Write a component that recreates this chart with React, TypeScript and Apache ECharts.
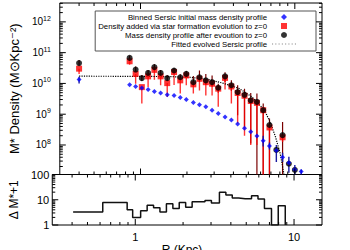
import React, { useEffect, useRef } from "react";
import * as echarts from "echarts";

const FONT = "Liberation Sans";

// Radii of the binned profile points (Kpc)
const radius = [0.40, 0.85, 0.93, 1.02, 1.12, 1.23, 1.35, 1.49, 1.65, 1.81, 1.98, 2.20, 2.41, 2.65, 2.91, 3.19, 3.53, 3.88, 4.26, 4.72, 5.18, 5.68, 6.24, 6.85, 7.59, 8.33, 9.15, 10.0, 11.0];
// log10 of density (M_sun Kpc^-2)
const blueLog = [10.13, 9.96, 9.90, 9.85, 9.80, 9.74, 9.69, 9.63, 9.61, 9.54, 9.48, 9.38, 9.31, 9.24, 9.13, 9.02, 8.91, 8.81, 8.68, 8.54, 8.43, 8.29, 8.14, 7.97, 7.82, 7.60, 7.42, 7.20, 7.14];
const redLog = [10.48, 10.72, 10.31, 9.88, 10.23, 10.44, 10.23, 10.01, 10.37, 10.10, 10.26, 9.97, 10.15, 10.04, 9.99, 9.83, 10.18, 9.90, 9.69, 9.60, 9.43, 9.37, 9.13, 8.57, null, 8.25, null, null, null];
const blackLog = [10.66, 10.83, 10.45, 10.17, 10.34, 10.53, 10.34, 10.17, 10.42, 10.20, 10.31, 10.04, 10.20, 10.10, 10.04, 9.86, 10.23, 9.94, 9.72, 9.63, 9.45, 9.40, 9.13, 8.65, 7.84, 8.32, 7.39, 7.19, null];
// error bars (log10)
const blackHi = [10.76, 10.90, 10.55, 10.27, 10.44, 10.62, 10.44, 10.27, 10.50, 10.30, 10.40, 10.24, 10.42, 10.31, 10.26, 9.99, 10.36, 10.10, 9.94, 9.83, 9.69, 9.67, 9.35, 8.86, null, 8.75, null, null, null];
const blackLo = [10.58, 10.74, 10.36, 10.08, 10.25, 10.43, 10.25, 10.08, 10.33, 10.10, 10.22, 9.90, 10.05, 9.95, 9.90, 9.70, 10.05, 9.75, 8.97, 8.59, 8.05, 6.5, 6.5, 6.5, null, 6.5, null, null, null];
const redLo = [10.31, 10.61, 9.99, 9.35, 9.88, 10.12, 9.94, 9.56, 9.95, 9.67, 9.94, 9.67, 9.77, 9.61, 9.61, 9.24, 9.80, 9.35, 8.70, 8.30, 8.00, 8.00, 6.5, 6.5, null, 8.10, null, null, null];
const blueLo = [10.00, null, null, null, null, null, null, null, null, null, null, null, null, null, null, null, null, null, null, null, null, null, 7.95, 7.85, 7.45, 7.45, 7.10, 7.00, 7.00];
const blueHi = [10.22, null, null, null, null, null, null, null, null, null, null, null, null, null, null, null, null, null, null, null, null, null, 8.30, 8.08, 8.00, 7.75, 7.62, 7.35, 7.20];

// Fitted evolved Sersic profile
const fitR = [0.40, 1.0, 1.57, 2.08, 2.75, 3.47, 4.38, 5.28, 6.36, 6.98, 7.49, 8.03, 8.41, 8.55];
const fitLog = [10.235, 10.23, 10.22, 10.20, 10.13, 10.0, 9.83, 9.56, 9.13, 8.70, 8.27, 7.73, 7.19, 6.95];

// Lower panel: Delta M* + 1 histogram
const histEdges = [0.406, 0.624, 0.889, 0.963, 1.081, 1.188, 1.304, 1.430, 1.571, 1.725, 1.892, 2.077, 2.281, 2.502, 2.748, 3.017, 3.389, 3.721, 4.082, 4.482, 4.922, 5.398, 5.929, 6.510, 7.210, 7.951, 8.805];
const histValues = [3.3, 7.8, 4.0, 2.0, 3.7, 6.1, 4.8, 3.3, 6.9, 4.5, 7.8, 5.1, 8.3, 8.3, 9.4, 7.4, 19.6, 15.4, 11.7, 11.0, 11.0, 14.5, 10.7, 4.5, 1.0, 5.8];

// ticks
const xMajor = [1, 10];
const xMinor = [0.4, 0.5, 0.6, 0.7, 0.8, 0.9, 2, 3, 4, 5, 6, 7, 8, 9];
const yMainMajor = [1e8, 1e9, 1e10, 1e11, 1e12];
const yBotMajor = [1, 10, 100];
const mult = [2, 3, 4, 5, 6, 7, 8, 9];
const yMainMinor: number[] = [];
for (let n = 7; n <= 12; n++) for (const m of mult) { const v = m * Math.pow(10, n); if (v > 1.1e7 && v < 4.1e12) yMainMinor.push(v); }
const yBotMinor: number[] = [];
for (let n = 0; n <= 1; n++) for (const m of mult) yBotMinor.push(m * Math.pow(10, n));

const names = {
  blue: "Binned Sersic initial mass density profile",
  red: "Density added via star formation evolution to z=0",
  black: "Mass density profile after evoution to z=0",
  fit: "Fitted evolved Sersic profile",
};
const xTitle = "R (Kpc)";

const ICON_SQUARE = "path://M0,0L1,0L1,1L0,1Z";
const ICON_DIAMOND = "path://M0.5,0L1,0.5L0.5,1L0,0.5Z";
const ICON_DOTS =
  "path://M0,0h1v1h-1zM3,0h1v1h-1zM6,0h1v1h-1zM9,0h1v1h-1zM12,0h1v1h-1zM15,0h1v1h-1zM18,0h1v1h-1zM21,0h1v1h-1z";

const toPts = (vals: (number | null)[]) =>
  radius.map((r, i) => (vals[i] == null ? null : [r, Math.pow(10, vals[i] as number)])).filter(Boolean);

const errSeries = (lo: (number | null)[], hi: (number | null)[], color: string, width: number) => ({
  type: "custom",
  xAxisIndex: 0,
  yAxisIndex: 0,
  silent: true,
  clip: true,
  z: 1,
  renderItem: (params: any, api: any) => {
    const x = api.value(0);
    const p1 = api.coord([x, api.value(1)]);
    const p2 = api.coord([x, api.value(2)]);
    return { type: "line", shape: { x1: p1[0], y1: p1[1], x2: p2[0], y2: p2[1] }, style: { stroke: color, lineWidth: width } };
  },
  data: radius
    .map((r, i) => (lo[i] == null || hi[i] == null ? null : [r, Math.pow(10, lo[i] as number), Math.pow(10, hi[i] as number)]))
    .filter(Boolean),
});

const tickSeries = (gi: number, xRefY: number, yRefX: number, yMajor: number[], yMinor: number[]) => ({
  type: "custom",
  xAxisIndex: gi,
  yAxisIndex: gi,
  silent: true,
  clip: false,
  z: 6,
  data: [
    ...xMajor.map((v) => [v, xRefY, 0]),
    ...xMinor.map((v) => [v, xRefY, 1]),
    ...yMajor.map((v) => [yRefX, v, 2]),
    ...yMinor.map((v) => [yRefX, v, 3]),
  ],
  renderItem: (params: any, api: any) => {
    const cs = params.coordSys;
    const k = api.value(2);
    const p = api.coord([api.value(0), api.value(1)]);
    const len = k === 0 || k === 2 ? 6 : 3;
    const style = { stroke: "#000", lineWidth: 1 };
    if (k < 2) {
      const x = p[0];
      const b = cs.y + cs.height;
      return {
        type: "group",
        children: [
          { type: "line", shape: { x1: x, y1: b, x2: x, y2: b - len }, style },
          { type: "line", shape: { x1: x, y1: cs.y, x2: x, y2: cs.y + len }, style },
        ],
      };
    }
    const y = p[1];
    const r = cs.x + cs.width;
    return {
      type: "group",
      children: [
        { type: "line", shape: { x1: cs.x, y1: y, x2: cs.x + len, y2: y }, style },
        { type: "line", shape: { x1: r, y1: y, x2: r - len, y2: y }, style },
      ],
    };
  },
});

export default function App() {
  const ref = useRef<HTMLDivElement>(null);
  useEffect(() => {
    if (!ref.current) return;
    const chart = echarts.init(ref.current, undefined, { renderer: "svg" });
    const histData: number[][] = [];
    histValues.forEach((v, i) => histData.push([histEdges[i], v]));
    const last = histEdges.length - 1;
    histData.push([histEdges[last], histValues[histValues.length - 1]]);
    histData.push([histEdges[last], 1]);

    const hidden = { show: false };
    chart.setOption({
      animation: false,
      backgroundColor: "#fff",
      textStyle: { fontFamily: FONT },
      grid: [
        { left: 42, right: 28, top: 3, height: 171.5, show: true, borderColor: "#000", borderWidth: 1 },
        { left: 42, right: 28, top: 174.5, height: 50.5, show: true, borderColor: "#000", borderWidth: 1 },
      ],
      graphic: [
        {
          type: "text", x: 182, y: 250, silent: true,
          style: { text: xTitle, fill: "#000", font: `12px "${FONT}"`, align: "center", verticalAlign: "middle" },
        },
      ],
      xAxis: [
        { type: "log", gridIndex: 0, min: 0.3, max: 15, axisLabel: hidden, axisLine: hidden, axisTick: hidden, splitLine: hidden },
        {
          type: "log", gridIndex: 1, min: 0.3, max: 15, axisLine: hidden, axisTick: hidden, splitLine: hidden,
          axisLabel: { fontSize: 11, color: "#000", fontFamily: FONT, margin: 6, showMinLabel: false, showMaxLabel: false },
        },
      ],
      yAxis: [
        {
          type: "log", gridIndex: 0, min: 1.1e7, max: 4.1e12, axisLine: hidden, axisTick: hidden, splitLine: hidden,
          axisLabel: {
            margin: 9, showMinLabel: false, showMaxLabel: false,
            formatter: (v: number) => `{b|10}{s|${Math.round(Math.log10(v))}}`,
            rich: {
              b: { fontSize: 10, color: "#000", fontFamily: FONT },
              s: { fontSize: 7, color: "#000", fontFamily: FONT, padding: [0, 0, 7, 0] },
            },
          },
          name: "M* Density (M\u2299Kpc\u207B\u00B2)", nameLocation: "middle", nameGap: 30,
          nameTextStyle: { fontSize: 13, color: "#000", fontFamily: FONT },
        },
        {
          type: "log", gridIndex: 1, min: 1, max: 100, axisLine: hidden, axisTick: hidden, splitLine: hidden,
          axisLabel: { fontSize: 11, color: "#000", fontFamily: FONT, margin: 3 },
          name: "\u0394 M*+1", nameLocation: "middle", nameGap: 30,
          nameTextStyle: { fontSize: 12, color: "#000", fontFamily: FONT },
        },
      ],
      legend: {
        orient: "vertical", align: "right", right: 34, top: 11,
        itemWidth: 24, itemHeight: 6, itemGap: 1,
        padding: [2, 20, 3, 3],
        borderColor: "#555", borderWidth: 1, backgroundColor: "#fff",
        selectedMode: false,
        symbolKeepAspect: true,
        textStyle: { fontSize: 7.8, fontFamily: FONT, color: "#000" },
        data: [
          { name: names.blue, icon: ICON_DIAMOND },
          { name: names.red, icon: ICON_SQUARE },
          { name: names.black, icon: "circle" },
          { name: names.fit, icon: ICON_DOTS, itemStyle: { color: "#888" } },
        ],
      },
      series: [
        tickSeries(0, 1e9, 1, yMainMajor, yMainMinor),
        tickSeries(1, 10, 1, yBotMajor, yBotMinor),
        errSeries(blackLo, blackHi, "#7a0000", 1.2),
        errSeries(redLo, redLog, "rgba(255,0,0,0.8)", 1.4),
        errSeries(blueLo, blueHi, "#1a1aa0", 1.4),
        {
          name: names.red, type: "scatter", xAxisIndex: 0, yAxisIndex: 0, symbol: "rect", symbolSize: 6,
          itemStyle: { color: "#ff0000" }, data: toPts(redLog), z: 3,
        },
        {
          name: names.black, type: "scatter", xAxisIndex: 0, yAxisIndex: 0, symbol: "circle", symbolSize: 6,
          itemStyle: { color: "#000" }, data: toPts(blackLog), z: 4,
        },
        {
          name: names.blue, type: "scatter", xAxisIndex: 0, yAxisIndex: 0, symbol: "diamond", symbolSize: 5,
          itemStyle: { color: "#0000ff" }, data: toPts(blueLog), z: 4,
        },
        {
          name: names.fit, type: "line", xAxisIndex: 0, yAxisIndex: 0, symbol: "none", clip: true,
          lineStyle: { color: "#000", width: 1.2, type: "dotted" }, itemStyle: { color: "#000" },
          data: fitR.map((r, i) => [r, Math.pow(10, fitLog[i])]), z: 2,
        },
        {
          name: "hist", type: "line", xAxisIndex: 1, yAxisIndex: 1, symbol: "none", step: "end",
          lineStyle: { color: "#111", width: 1.5 }, data: histData, z: 2,
        },
      ],
    });
    return () => chart.dispose();
  }, []);
  return <div ref={ref} style={{ width: 350, height: 250, position: "absolute", left: 0, top: 0 }} />;
}
